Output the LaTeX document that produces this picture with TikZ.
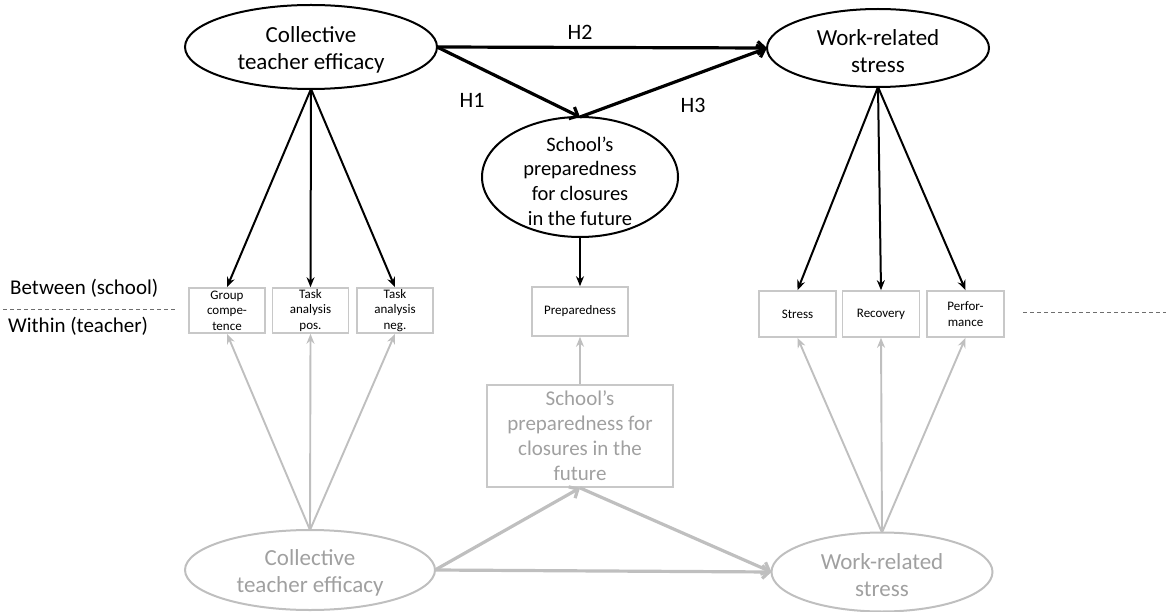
\documentclass[tikz,border=0pt]{standalone}
\usepackage{fontspec}
\setmainfont{Carlito}
\usetikzlibrary{shapes.geometric,arrows.meta}
\definecolor{lg}{RGB}{191,191,191}
\definecolor{lgt}{RGB}{160,160,160}
\definecolor{bx}{RGB}{200,200,200}
\definecolor{dsh}{RGB}{110,110,110}
\begin{document}
\begin{tikzpicture}[x=1pt,y=-1pt,
  ell/.style={ellipse, draw=black, line width=2pt, inner sep=0pt, outer sep=0pt},
  gell/.style={ellipse, draw=lg, line width=2pt, inner sep=0pt, outer sep=0pt},
  bigtxt/.style={align=center, font=\fontsize{23}{27}\selectfont, inner sep=0pt},
  midtxt/.style={align=center, font=\fontsize{20.5}{24.7}\selectfont, inner sep=0pt},
  lbl/.style={font=\fontsize{21}{25}\selectfont, inner sep=0pt},
  hlbl/.style={font=\fontsize{22}{26}\selectfont, inner sep=0pt},
  sbox/.style={draw=bx, line width=1.6pt, align=center, font=\fontsize{13}{15.5}\selectfont, inner sep=0pt, minimum width=76pt, minimum height=45pt},
  harrow/.style={line width=3.2pt, -{Straight Barb[length=7pt,width=13pt]}},
  load/.style={line width=2pt, -{Stealth[length=10pt,width=8pt]}},
  gload/.style={draw=lg, line width=1.9pt, -{Stealth[length=10pt,width=8pt]}},
  gharrow/.style={draw=lg, line width=3.2pt, -{Straight Barb[length=7pt,width=13pt]}},
  dashline/.style={draw=dsh, line width=1pt, dash pattern=on 4pt off 3pt}
]
\useasboundingbox (0,0) rectangle (1166,612);

% ---- top (between) level ----
\node[ell, minimum width=252pt, minimum height=84pt] (cteT) at (311,47) {};
\node[bigtxt] (cteTt) at (311,50) {Collective\\teacher efficacy};
\node[ell, minimum width=222pt, minimum height=78pt] (wrsT) at (878,48) {};
\node[bigtxt] (wrsTt) at (878,51) {Work-related\\stress};
\node[ell, minimum width=196pt, minimum height=120pt] (mid) at (580,177) {};
\node[midtxt] (midt) at (580,181) {School’s\\preparedness\\for closures\\in the future};

\node[sbox] (b1) at (227,310.5) {Group\\compe-\\tence};
\node[sbox] (b2) at (310.5,310.5) {Task\\analysis\\pos.};
\node[sbox] (b3) at (395,310.5) {Task\\analysis\\neg.};
\node[sbox, minimum width=96pt, minimum height=49pt] (prep) at (580,311.5) {Preparedness};
\node[sbox, minimum width=77pt, minimum height=46pt] (r1) at (797.5,314) {Stress};
\node[sbox, minimum width=77pt, minimum height=46pt] (r2) at (881,314) {Recovery};
\node[sbox, minimum width=77pt, minimum height=46pt] (r3) at (965.5,314) {Perfor-\\mance};

\draw[harrow] (cteT.east) -- (wrsT.west);
\draw[harrow] (cteT.east) -- (mid.north);
\draw[harrow] (mid.north) -- (wrsT.west);
\node[hlbl] (h2) at (580,32) {H2};
\node[hlbl] (h1) at (472,100) {H1};
\node[hlbl] (h3) at (693,105) {H3};

\draw[load] (cteT.south) -- (b1.north);
\draw[load] (cteT.south) -- (b2.north);
\draw[load] (cteT.south) -- (b3.north);
\draw[load] (mid.south) -- (prep.north);
\draw[load] (wrsT.south) -- (r1.north);
\draw[load] (wrsT.south) -- (r2.north);
\draw[load] (wrsT.south) -- (r3.north);

% ---- level labels ----
\node[lbl, anchor=west] (between) at (10,288) {Between (school)};
\node[lbl, anchor=west] (within) at (8,326) {Within (teacher)};
\coordinate (dl1) at (3,309);
\coordinate (dl2) at (175,309);
\coordinate (dr1) at (1023,312);
\coordinate (dr2) at (1166,312);
\draw[dashline] (dl1) -- (dl2);
\draw[dashline] (dr1) -- (dr2);

% ---- bottom (within) level ----
\node[gell, minimum width=250pt, minimum height=80pt] (cteB) at (310,570) {};
\node[bigtxt, text=lgt] (cteBt) at (310,573) {Collective\\teacher efficacy};
\node[gell, minimum width=221pt, minimum height=79pt] (wrsB) at (882,572) {};
\node[bigtxt, text=lgt] (wrsBt) at (882,575) {Work-related\\stress};
\node[draw=bx, line width=1.8pt, minimum width=186pt, minimum height=102pt, inner sep=0pt,
      align=center, text=lgt, font=\fontsize{21}{25}\selectfont] (gbox) at (580,436)
      {School’s\\preparedness for\\closures in the\\future};

\draw[gload] (cteB.north) -- (b1.south);
\draw[gload] (cteB.north) -- (b2.south);
\draw[gload] (cteB.north) -- (b3.south);
\draw[gload] (gbox.north) -- (prep.south);
\draw[gload] (wrsB.north) -- (r1.south);
\draw[gload] (wrsB.north) -- (r2.south);
\draw[gload] (wrsB.north) -- (r3.south);

\draw[gharrow] (cteB.east) -- (gbox.south);
\draw[gharrow] (gbox.south) -- (wrsB.west);
\draw[gharrow] (cteB.east) -- (wrsB.west);
\end{tikzpicture}
\end{document}
